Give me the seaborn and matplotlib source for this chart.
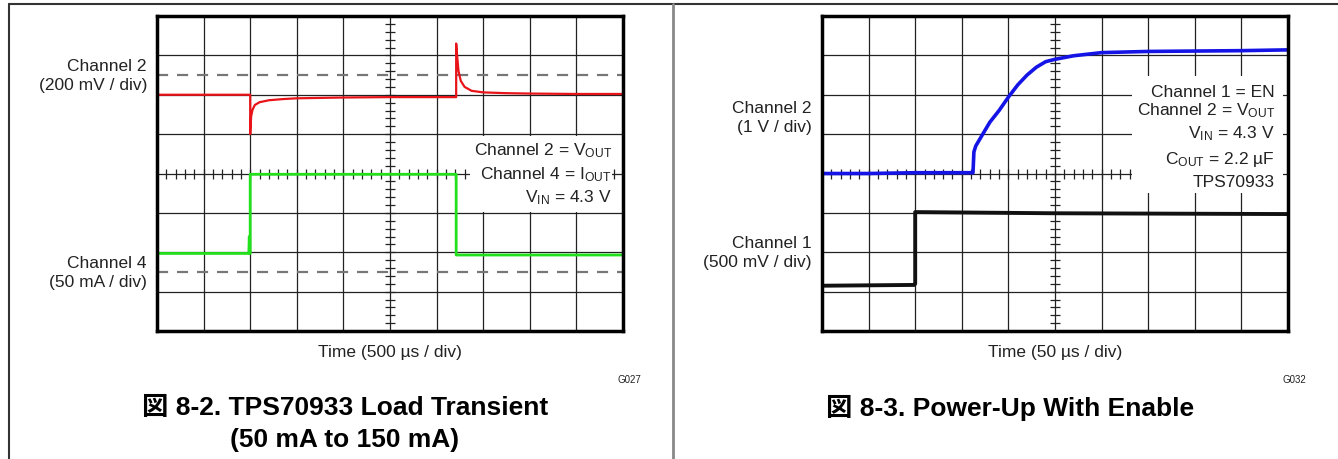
import numpy as np
import pandas as pd
import seaborn as sns
import matplotlib.pyplot as plt
from matplotlib.lines import Line2D
from matplotlib.patches import Rectangle

sns.set_style('white')
plt.rcParams['font.family'] = ['Liberation Sans', 'Noto Sans CJK JP', 'DejaVu Sans']
plt.rcParams['mathtext.fontset'] = 'custom'
plt.rcParams['mathtext.rm'] = 'Liberation Sans'
plt.rcParams['mathtext.default'] = 'regular'

## Data (scope divisions: x 0..10, y 0..8)
# Load transient: Channel 2 = VOUT (red)
vout_lt_t = [0, 2.0, 2.0, 2.02, 2.05, 2.1, 2.2, 2.4, 2.7, 3.0, 3.5, 4.0, 5.0, 6.0, 6.42,
             6.42, 6.44, 6.47, 6.52, 6.6, 6.75, 7.0, 7.5, 8.0, 9.0, 10.0]
vout_lt_v = [6.0, 6.0, 5.0, 5.45, 5.62, 5.74, 5.81, 5.86, 5.89, 5.91, 5.92, 5.93, 5.94, 5.94, 5.94,
             7.3, 7.0, 6.6, 6.35, 6.2, 6.1, 6.06, 6.04, 6.03, 6.02, 6.02]
# Load transient: Channel 4 = IOUT (green)
iout_t = [0, 1.97, 1.98, 1.99, 2.0, 2.0, 6.42, 6.42, 10.0]
iout_v = [1.97, 1.97, 2.4, 1.97, 1.97, 3.98, 3.98, 1.93, 1.93]
# Power-up: Channel 2 = VOUT (blue)
vout_pu_t = [0, 1.0, 2.0, 3.24, 3.26, 3.3, 3.45, 3.6, 3.8, 4.0, 4.2, 4.4, 4.6, 4.8, 5.0,
             5.4, 6.0, 7.0, 8.0, 9.0, 10.0]
vout_pu_v = [4.0, 4.0, 4.02, 4.02, 4.55, 4.7, 5.0, 5.3, 5.6, 5.94, 6.25, 6.5, 6.7, 6.84, 6.9,
             6.99, 7.07, 7.1, 7.11, 7.12, 7.14]
# Power-up: Channel 1 = EN (black)
en_t = [0, 1.98, 2.0, 2.0, 5.0, 10.0]
en_v = [1.15, 1.17, 1.2, 3.02, 2.99, 2.97]

dashed_levels = [6.5, 1.5]

W, H = 1338, 460
fig = plt.figure(figsize=(W / 100, H / 100), dpi=100)
ax1 = fig.add_axes([157 / W, 1 - 332 / H, 466 / W, 315 / H])
ax2 = fig.add_axes([822 / W, 1 - 332 / H, 466 / W, 315 / H])


def scope(ax):
    ax.set_xlim(0, 10)
    ax.set_ylim(0, 8)
    ax.set_xticks([])
    ax.set_yticks([])
    for k in range(1, 10):
        ax.axvline(k, color='#222222', lw=0.9, zorder=1)
    for k in range(1, 8):
        ax.axhline(k, color='#222222', lw=0.9, zorder=1)
    hx = np.arange(0.2, 10, 0.2)
    ax.plot(hx, np.full_like(hx, 4.0), ls='none', marker='|', ms=7, mew=0.9,
            color='#222222', zorder=1)
    vy = np.arange(0.2, 8, 0.2)
    ax.plot(np.full_like(vy, 5.0), vy, ls='none', marker='_', ms=7, mew=0.9,
            color='#222222', zorder=1)
    for s in ax.spines.values():
        s.set_linewidth(2.5)
        s.set_color('black')
        s.set_zorder(5)


scope(ax1)
scope(ax2)

# Left: load transient
for lv in dashed_levels:
    ax1.axhline(lv, color='#777777', lw=1.6, ls=(0, (5, 4)), zorder=1.2)
ax1.add_patch(Rectangle((6.72, 3.02), 3.04, 1.93, facecolor='white', edgecolor='none', zorder=2))
sns.lineplot(x=vout_lt_t, y=vout_lt_v, estimator=None, sort=False, color='#e8141a', lw=1.6,
             ax=ax1, zorder=3)
sns.lineplot(x=iout_t, y=iout_v, estimator=None, sort=False, color='#22e01c', lw=2.0,
             ax=ax1, zorder=3)
fs = 12.5
ax1.text(9.76, 4.49, 'Channel 2 = V$_{OUT}$', ha='right', va='baseline', fontsize=fs, color='#222222', zorder=4)
ax1.text(9.76, 3.88, 'Channel 4 = I$_{OUT}$', ha='right', va='baseline', fontsize=fs, color='#222222', zorder=4)
ax1.text(9.76, 3.30, 'V$_{IN}$ = 4.3 V', ha='right', va='baseline', fontsize=fs, color='#222222', zorder=4)

# Right: power-up with enable
ax2.add_patch(Rectangle((6.65, 3.5), 3.24, 2.97, facecolor='white', edgecolor='none', zorder=2))
sns.lineplot(x=vout_pu_t, y=vout_pu_v, estimator=None, sort=False, color='#1414e6', lw=2.6,
             ax=ax2, zorder=3)
sns.lineplot(x=en_t, y=en_v, estimator=None, sort=False, color='#111111', lw=2.8,
             ax=ax2, zorder=3)
ax2.text(9.72, 5.96, 'Channel 1 = EN', ha='right', va='baseline', fontsize=fs, color='#222222', zorder=4)
ax2.text(9.72, 5.51, 'Channel 2 = V$_{OUT}$', ha='right', va='baseline', fontsize=fs, color='#222222', zorder=4)
ax2.text(9.72, 4.92, 'V$_{IN}$ = 4.3 V', ha='right', va='baseline', fontsize=fs, color='#222222', zorder=4)
ax2.text(9.72, 4.26, 'C$_{OUT}$ = 2.2 µF', ha='right', va='baseline', fontsize=fs, color='#222222', zorder=4)
ax2.text(9.72, 3.68, 'TPS70933', ha='right', va='baseline', fontsize=fs, color='#222222', zorder=4)

# Channel labels on the left of each screen
def side_label(ax, y, txt):
    ax.text(-0.0215, y, txt, transform=ax.get_yaxis_transform(), ha='right', va='center',
            multialignment='right', fontsize=fs, color='#222222', linespacing=1.3)


side_label(ax1, 6.5, 'Channel 2\n(200 mV / div)')
side_label(ax1, 1.5, 'Channel 4\n(50 mA / div)')
side_label(ax2, 5.43, 'Channel 2\n(1 V / div)')
side_label(ax2, 2.0, 'Channel 1\n(500 mV / div)')

for ax, tl, gid in [(ax1, 'Time (500 µs / div)', 'G027'), (ax2, 'Time (50 µs / div)', 'G032')]:
    ax.text(0.5, -20 / 315, tl, transform=ax.transAxes, ha='center', va='center',
            fontsize=fs, color='#222222')
    ax.text(1.04, -48 / 315, gid, transform=ax.transAxes, ha='right', va='center',
            fontsize=7, color='#222222')

# Captions, centred in each page cell
tfs = 19
fig.text(345 / W, 1 - 408 / H, '図 8-2. TPS70933 Load Transient', ha='center', va='center',
         fontsize=tfs, fontweight='bold', color='black')
fig.text(345 / W, 1 - 440 / H, '(50 mA to 150 mA)', ha='center', va='center',
         fontsize=tfs, fontweight='bold', color='black')
fig.text(1010 / W, 1 - 408 / H, '図 8-3. Power-Up With Enable', ha='center', va='center',
         fontsize=tfs, fontweight='bold', color='black')

# Page frame
fig.add_artist(Line2D([9 / W, 1], [1 - 5 / H] * 2, transform=fig.transFigure, color='#333333', lw=1.5))
fig.add_artist(Line2D([9 / W] * 2, [0, 1 - 5 / H], transform=fig.transFigure, color='#333333', lw=1.5))
fig.add_artist(Line2D([673 / W] * 2, [0, 1 - 5 / H], transform=fig.transFigure, color='#888888', lw=2))

fig.savefig('out.png', dpi=100)
